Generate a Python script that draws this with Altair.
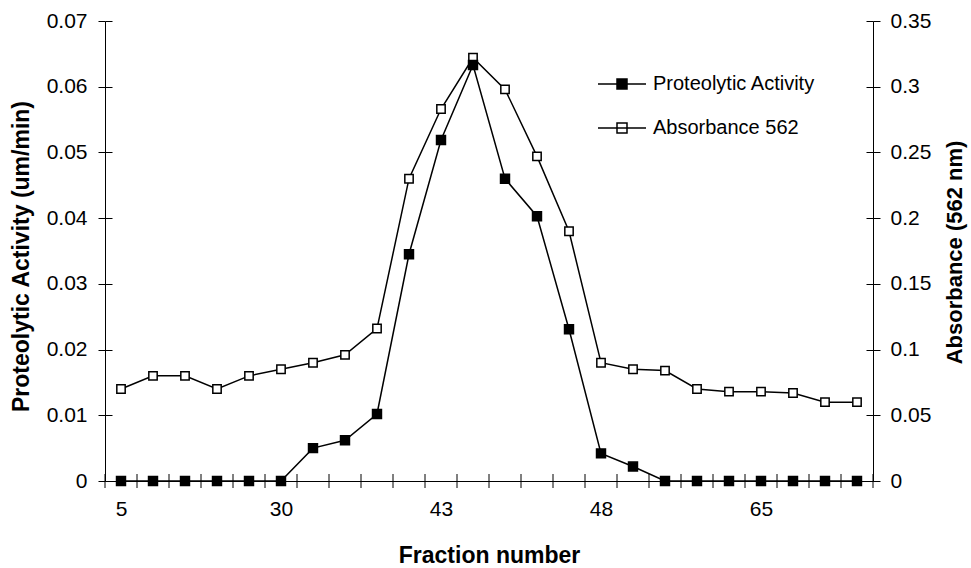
import altair as alt
import pandas as pd

# ---- data ----
fraction_index = list(range(24))
tick_labels = ["5", "30", "43", "48", "65"]
proteolytic = [0, 0, 0, 0, 0, 0, 0.005, 0.0062, 0.0102, 0.0345, 0.0519, 0.0633,
               0.046, 0.0403, 0.0231, 0.0042, 0.0022, 0, 0, 0, 0, 0, 0, 0]
absorbance = [0.07, 0.08, 0.08, 0.07, 0.08, 0.085, 0.09, 0.096, 0.116, 0.23, 0.283, 0.322,
              0.298, 0.247, 0.19, 0.09, 0.085, 0.084, 0.07, 0.068, 0.068, 0.067, 0.06, 0.06]
series_names = ["Proteolytic Activity", "Absorbance 562"]
left_ticks = [0, 0.01, 0.02, 0.03, 0.04, 0.05, 0.06, 0.07]
right_ticks = [0, 0.05, 0.1, 0.15, 0.2, 0.25, 0.3, 0.35]

n = len(fraction_index)
# category boundaries (ticks sit between fractions, labels in the middle)
x_bounds = [i - 0.5 for i in range(n + 1)]

df = pd.DataFrame({"idx": fraction_index, "prot": proteolytic, "absb": absorbance})
bounds_df = pd.DataFrame({"idx": x_bounds})

FONT = "Liberation Sans"
label_expr = ("(datum.value + 0.5) % 5 == 0 ? " + str(tick_labels)
              + "[(datum.value + 0.5) / 5] : ''")

common_axis = dict(
    domain=True, domainColor="black", domainWidth=1,
    tickColor="black", tickWidth=1, tickSize=7,
    gridColor="black", gridOpacity=1, gridWidth=1, gridDash=[7, 3000],
    labelFont=FONT, labelFontSize=21, labelColor="black",
    titleFont=FONT, titleFontWeight="bold", titleColor="black",
)

x_enc = alt.X(
    "idx:Q",
    scale=alt.Scale(domain=[x_bounds[0], x_bounds[-1]], nice=False, zero=False),
    axis=alt.Axis(title="Fraction number", values=x_bounds, labelExpr=label_expr,
                  labelAngle=0, labelOffset=16, labelPadding=17,
                  labelOverlap=False, labelFlush=False, ticks=False, grid=False,
                  titleX=384, titleY=81, titleFontSize=23, titleBaseline="alphabetic",
                  **common_axis),
)

y_left = alt.Y(
    "prot:Q", scale=alt.Scale(domain=[0, 0.07], nice=False, zero=True),
    axis=alt.Axis(orient="left", values=left_ticks, format="~g", ticks=True, grid=True,
                  title="Proteolytic Activity (um/min)", labelPadding=11,
                  titleFontSize=23,
                  titleAngle=270, titleBaseline="alphabetic", titleX=-77, titleY=235,
                  **common_axis),
)
y_right = alt.Y(
    "absb:Q", scale=alt.Scale(domain=[0, 0.35], nice=False, zero=True),
    axis=alt.Axis(orient="right", values=right_ticks, format="~g", ticks=True, grid=True,
                  title="Absorbance (562 nm)", labelPadding=10,
                  titleFontSize=22,
                  titleAngle=270, titleBaseline="alphabetic", titleX=88, titleY=231,
                  **common_axis),
)

fill_scale = alt.Scale(domain=series_names, range=["black", "white"])
legend = alt.Legend(
    orient="none", legendX=507, legendY=53, title=None, padding=0,
    symbolType="M-4.8,0H4.8M-1,-1H1V1H-1Z", symbolSize=100,
    symbolStrokeColor="black", symbolStrokeWidth=1.5, symbolOpacity=1,
    labelFont=FONT, labelFontSize=20, labelColor="black", labelOffset=21,
    rowPadding=24, labelLimit=400,
)
fill_enc = alt.Fill("series:N", scale=fill_scale, legend=legend)

base = alt.Chart(df)

# crossing tick marks of the category axis, at the category boundaries
x_ticks = alt.Chart(bounds_df).mark_rule(color="black", strokeWidth=1).encode(
    x=x_enc, y=alt.value(453), y2=alt.value(467)
)

abs_layer = alt.layer(
    base.mark_line(color="black", strokeWidth=1.5).encode(x=x_enc, y=y_right),
    base.transform_calculate(series="'" + series_names[1] + "'")
    .mark_point(shape="square", size=70, filled=True, stroke="black",
                strokeWidth=1.5, opacity=1)
    .encode(x=x_enc, y=y_right, fill=fill_enc),
)
prot_layer = alt.layer(
    base.mark_line(color="black", strokeWidth=1.5).encode(x=x_enc, y=y_left),
    base.transform_calculate(series="'" + series_names[0] + "'")
    .mark_point(shape="square", size=80, filled=True, stroke="black",
                strokeWidth=1.5, opacity=1)
    .encode(x=x_enc, y=y_left, fill=fill_enc),
)

chart = alt.layer(x_ticks, abs_layer, prot_layer).resolve_scale(y="independent").properties(
    width=768, height=460,
    autosize=alt.AutoSizeParams(type="none"),
    padding={"left": 105, "top": 21, "right": 98, "bottom": 87},
    background="white",
).configure_view(stroke=None)

chart.save("out.html", embed_options={"renderer": "svg", "actions": False})
